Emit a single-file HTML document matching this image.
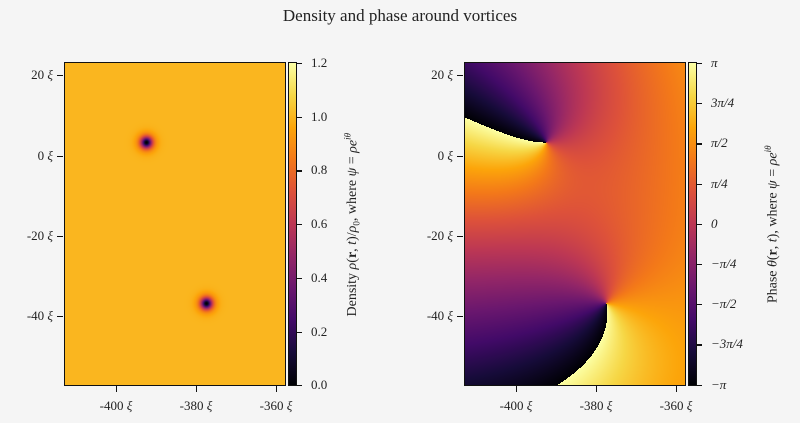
<!DOCTYPE html>
<html><head><meta charset="utf-8"><style>
body{margin:0;background:#f5f5f5;}
#w{position:relative;width:800px;height:423px;overflow:hidden;font-family:"Liberation Serif","DejaVu Serif",serif;color:#222;}
canvas{position:absolute;image-rendering:pixelated;}
.t{position:absolute;font-size:13px;white-space:nowrap;}
.fr{position:absolute;border:1.5px solid #111;box-sizing:border-box;}
.tk{position:absolute;background:#111;}
.rl{position:absolute;font-size:14px;white-space:nowrap;transform:rotate(-90deg);transform-origin:center;}
</style></head><body><div id="w">
<div class="t" style="left:0;width:800px;top:6px;text-align:center;font-size:17px;">Density and phase around vortices</div>
<canvas id="c1" width="220" height="322" style="left:65px;top:63px;width:220px;height:322px"></canvas>
<canvas id="c2" width="220" height="322" style="left:465px;top:63px;width:220px;height:322px"></canvas>
<canvas id="cb1" width="1" height="322" style="left:289px;top:63px;width:7px;height:322px"></canvas>
<canvas id="cb2" width="1" height="322" style="left:689px;top:63px;width:7px;height:322px"></canvas>
<div class="fr" style="left:64px;top:62px;width:222px;height:324px"></div>
<div class="fr" style="left:464px;top:62px;width:222px;height:324px"></div>
<div class="fr" style="left:288px;top:62px;width:9px;height:324px;border-width:1px"></div>
<div class="fr" style="left:688px;top:62px;width:9px;height:324px;border-width:1px"></div>
<div id="ax"></div>
<div class="rl" style="left:232px;top:215px;width:240px;text-align:center;">Density <i>ρ</i>(<b>r</b>, <i>t</i>)/<i>ρ</i><sub style="font-size:9px">0</sub>, where <i>ψ</i> = <i>ρe<sup style="font-size:9px">iθ</sup></i></div>
<div class="rl" style="left:652px;top:215px;width:240px;text-align:center;">Phase <i>θ</i>(<b>r</b>, <i>t</i>), where <i>ψ</i> = <i>ρe<sup style="font-size:9px">iθ</sup></i></div>
</div>
<script>
var S=[[0,0,0,4],[.1,22,11,57],[.2,66,10,104],[.3,106,23,110],[.4,147,38,103],[.5,188,55,84],[.6,221,81,58],[.7,243,120,25],[.8,252,165,10],[.9,246,215,70],[1,252,255,164]];
function inf(v){v=Math.max(0,Math.min(1,v));for(var i=1;i<S.length;i++){if(v<=S[i][0]){var a=S[i-1],b=S[i],f=(v-a[0])/(b[0]-a[0]);return [a[1]+f*(b[1]-a[1]),a[2]+f*(b[2]-a[2]),a[3]+f*(b[3]-a[3])];}}return [252,255,164];}
function draw(id,fn){var c=document.getElementById(id),x=c.getContext('2d'),d=x.createImageData(c.width,c.height);for(var j=0;j<c.height;j++)for(var i=0;i<c.width;i++){var col=inf(fn(i,j)),k=(j*c.width+i)*4;d.data[k]=col[0];d.data[k+1]=col[1];d.data[k+2]=col[2];d.data[k+3]=255;}x.putImageData(d,0,0);}
var v1=[81,79],v2=[141,240];
draw('c1',function(i,j){var r1=Math.hypot(i-v1[0],j-v1[1]),r2=Math.hypot(i-v2[0],j-v2[1]);var t1=Math.tanh(r1/5.5),t2=Math.tanh(r2/5.5);return 0.835*t1*t1*t2*t2;});
var P=Math.PI;
draw('c2',function(i,j){var a1=Math.atan2(-(j-v1[1]),i-v1[0]),a2=Math.atan2(-(j-v2[1]),i-v2[0]);var t=-a1-a2+0.79*P+0.00115*P*i-0.00328*P*j;t=((t+P)%(2*P)+2*P)%(2*P)-P;return (t+P)/(2*P);});
draw('cb1',function(i,j){return 1-j/321;});
draw('cb2',function(i,j){return 1-j/321;});
var h='';
function tk(x,y,w,hh){h+='<div class="tk" style="left:'+x+'px;top:'+y+'px;width:'+w+'px;height:'+hh+'px"></div>';}
function lb(x,y,s,al){h+='<div class="t" style="left:'+(al=='r'?x-80:x)+'px;top:'+(y-8)+'px;width:80px;text-align:'+(al=='r'?'right':'left')+'">'+s+'</div>';}
[0,400].forEach(function(o){
 [[75,'20 <i>ξ</i>'],[156,'0 <i>ξ</i>'],[236,'-20 <i>ξ</i>'],[316,'-40 <i>ξ</i>']].forEach(function(a){tk(o+57,a[0],6,1.3);lb(o+53,a[0],a[1],'r');});
 [[116,'-400 <i>ξ</i>'],[196,'-380 <i>ξ</i>'],[276,'-360 <i>ξ</i>']].forEach(function(a){tk(o+a[0],386,1.3,6);h+='<div class="t" style="left:'+(o+a[0]-40)+'px;top:398px;width:80px;text-align:center">'+a[1]+'</div>';});
});
['1.2','1.0','0.8','0.6','0.4','0.2','0.0'].forEach(function(s,k){var y=63+k*53.7;tk(297,y,5,1.3);lb(311,y,s,'l');});
['π','3π/4','π/2','π/4','0','−π/4','−π/2','−3π/4','−π'].forEach(function(s,k){var y=63+k*40.2;tk(697,y,5,1.3);lb(711,y,'<i>'+s.replace(/π/g,'π</i><i>').replace(/<i><\/i>/g,'')+'</i>','l');});
document.getElementById('ax').innerHTML=h;
</script>
</body></html>
